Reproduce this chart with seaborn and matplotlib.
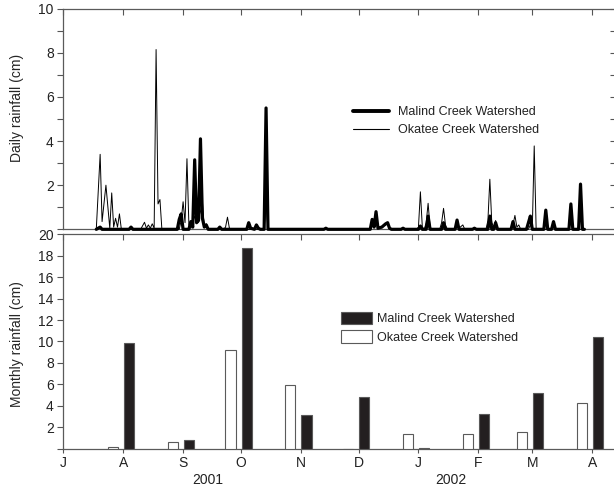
import matplotlib
matplotlib.use("Agg")
import matplotlib.pyplot as plt
import matplotlib.dates as mdates
from matplotlib.lines import Line2D
from matplotlib.patches import Patch
import pandas as pd
import seaborn as sns

START = pd.Timestamp("2001-07-01")

# daily rainfall (cm), days counted from 1 July 2001
malind_day = [17, 19, 20, 34, 35, 36, 59, 60, 61, 62, 65, 66, 67, 68, 69, 70, 71, 72, 73, 74, 75,
              80, 81, 82, 95, 96, 97, 99, 100, 101, 102, 104, 105, 106, 135, 136, 137,
              159, 160, 161, 162, 163, 165, 167, 168, 169, 170, 175, 176, 177, 184, 185, 186,
              188, 189, 190, 196, 197, 198, 203, 204, 205, 212, 213, 214, 220, 221, 222, 223,
              224, 225, 232, 233, 234, 240, 241, 242, 243, 249, 250, 251, 253, 254, 255,
              262, 263, 264, 267, 268, 269, 270]
malind_cm = [0, 0.1, 0, 0, 0.1, 0, 0, 0.45, 0.7, 0, 0, 0.35, 0.1, 3.15, 0.3, 0.4, 4.1, 0.5, 0.1, 0.2, 0,
             0, 0.1, 0, 0, 0.3, 0.05, 0, 0.2, 0.05, 0, 0, 5.5, 0, 0, 0.05, 0,
             0, 0.45, 0.1, 0.8, 0.05, 0.1, 0.25, 0.3, 0.05, 0, 0, 0.05, 0, 0, 0.15, 0,
             0, 0.6, 0, 0, 0.3, 0, 0, 0.42, 0, 0, 0.05, 0, 0, 0.6, 0, 0,
             0.3, 0, 0, 0.35, 0, 0, 0.3, 0.6, 0, 0, 0.87, 0, 0, 0.35, 0,
             0, 1.15, 0, 0, 2.05, 0, 0]

okatee_day = [17, 19, 20, 22, 24, 25, 26, 27, 28, 29, 30,
              40, 42, 43, 44, 45, 46, 47, 48, 49, 50, 51,
              60, 61, 62, 63, 64, 65, 66, 68, 69, 71, 72, 73, 74, 75,
              83, 84, 85, 86, 87, 104, 105, 106,
              159, 160, 161, 162, 163, 167, 168, 169,
              183, 184, 185, 186, 187, 188, 189, 190, 191,
              195, 196, 197, 198, 199, 203, 204, 205, 207, 208,
              219, 220, 221, 222, 223, 224, 225, 232, 233, 234, 235, 236, 237,
              241, 242, 243, 244, 245, 253, 254, 255, 270]
okatee_cm = [0, 3.4, 0.35, 2.0, 0.05, 1.65, 0.1, 0.5, 0.1, 0.7, 0,
             0, 0.32, 0.05, 0.2, 0.05, 0.25, 0.05, 8.15, 1.15, 1.35, 0,
             0, 0.4, 1.25, 0.3, 3.2, 0.2, 0.05, 0.6, 0.3, 0.8, 1.25, 0.1, 0.25, 0,
             0, 0.1, 0.55, 0.05, 0, 0, 1.1, 0,
             0, 0.3, 0.1, 0.5, 0.05, 0.2, 0.25, 0,
             0, 0.1, 1.7, 0.1, 0, 0.3, 1.18, 0.1, 0,
             0, 0.3, 0.95, 0.2, 0, 0, 0.3, 0.05, 0.2, 0,
             0, 0.4, 2.27, 0.3, 0.1, 0.4, 0, 0, 0.2, 0.63, 0.1, 0.2, 0,
             0, 0.2, 0, 3.78, 0, 0, 0.15, 0, 0]

# monthly rainfall (cm), drawn on either side of each month tick
month_dates = ["2001-08-01", "2001-09-01", "2001-10-01", "2001-11-01", "2001-12-01",
               "2002-01-01", "2002-02-01", "2002-03-01", "2002-04-01"]
okatee_month_cm = [0.15, 0.6, 9.2, 5.9, 0.0, 1.35, 1.35, 1.55, 4.25]
malind_month_cm = [9.9, 0.8, 18.7, 3.1, 4.85, 0.05, 3.2, 5.2, 10.45]

names = ["Malind Creek Watershed", "Okatee Creek Watershed"]

sns.set_style("ticks")
plt.rcParams["font.family"] = ["Liberation Sans", "DejaVu Sans"]
plt.rcParams["text.color"] = "#222222"
plt.rcParams["xtick.color"] = "#555555"
plt.rcParams["ytick.color"] = "#555555"
plt.rcParams["xtick.labelcolor"] = "#222222"
plt.rcParams["ytick.labelcolor"] = "#222222"

spine_col = "#5a5a5a"

fig = plt.figure(figsize=(6.14, 4.90), dpi=100)
ax1 = fig.add_axes([0.1034, 0.532, 0.8958, 0.4502])
ax2 = fig.add_axes([0.1034, 0.0843, 0.8958, 0.4376])

xmin = START
xmax = START + pd.Timedelta(days=285.1)

# ---- daily panel
mal = pd.DataFrame({"date": START + pd.to_timedelta(malind_day, unit="D"), "cm": malind_cm})
oka = pd.DataFrame({"date": START + pd.to_timedelta(okatee_day, unit="D"), "cm": okatee_cm})
sns.lineplot(data=mal, x="date", y="cm", ax=ax1, color="black", lw=2.3,
             estimator=None, clip_on=False, zorder=3)
sns.lineplot(data=oka, x="date", y="cm", ax=ax1, color="black", lw=0.7,
             estimator=None, clip_on=False, zorder=4)

ax1.set_xlim(xmin, xmax)
ax1.set_ylim(0, 10)
ax1.set_xlabel("")
ax1.set_ylabel("Daily rainfall (cm)", fontsize=10)
ax1.yaxis.set_label_coords(-0.072, 0.55)
ax1.set_yticks([0, 2, 4, 6, 8, 10])
ax1.set_yticklabels(["", "2", "4", "6", "8", "10"])
ax1.set_yticks([1, 3, 5, 7, 9], minor=True)
ax1.tick_params(axis="y", which="both", direction="out", length=4, width=0.8,
                labelsize=10, pad=3)
ax1.xaxis.set_major_locator(mdates.MonthLocator())
ax1.tick_params(axis="x", which="both", bottom=False, top=True, direction="in",
                length=4, width=0.8, labelbottom=False)
for side in ["top", "left", "bottom"]:
    ax1.spines[side].set_color(spine_col)
    ax1.spines[side].set_linewidth(0.9)
ax1.spines["right"].set_visible(False)
sec_y = ax1.secondary_yaxis("right")
sec_y.set_yticks(range(1, 11))
sec_y.tick_params(direction="in", length=3, width=0.8, labelright=False)
sec_y.spines["right"].set_visible(False)

h1 = [Line2D([], [], color="black", lw=2.8), Line2D([], [], color="black", lw=0.8)]
ax1.legend(h1, names, loc="upper left", bbox_to_anchor=(0.575, 0.783),
           bbox_transform=fig.transFigure, frameon=False, borderpad=0, borderaxespad=0,
           handlelength=2.9, handletextpad=0.7, labelspacing=0.45, fontsize=9)

# ---- monthly panel
mdt = pd.to_datetime(month_dates)
bar_w = 5.3
ax2.bar(mdt - pd.Timedelta(days=5.4), okatee_month_cm, width=bar_w, color="white",
        edgecolor=spine_col, lw=0.8, zorder=3)
ax2.bar(mdt + pd.Timedelta(days=2.95), malind_month_cm, width=bar_w, color="#231f20",
        edgecolor=spine_col, lw=0.8, zorder=3)

ax2.set_xlim(xmin, xmax)
ax2.set_ylim(0, 20)
ax2.set_ylabel("Monthly rainfall (cm)", fontsize=10)
ax2.yaxis.set_label_coords(-0.072, 0.49)
ax2.set_yticks(range(0, 21, 2))
ax2.set_yticklabels([""] + [str(v) for v in range(2, 21, 2)])
ax2.tick_params(axis="y", direction="out", length=4, width=0.8, labelsize=10, pad=3)
ax2.xaxis.set_major_locator(mdates.MonthLocator())
ax2.xaxis.set_major_formatter(
    plt.FuncFormatter(lambda v, pos: mdates.num2date(v).strftime("%b")[0]))
ax2.tick_params(axis="x", direction="out", length=3, width=0.8, labelsize=10, pad=2)
for side in ["top", "left", "bottom"]:
    ax2.spines[side].set_color(spine_col)
    ax2.spines[side].set_linewidth(0.9)
ax2.spines["right"].set_visible(False)
sec_x = ax2.secondary_xaxis("top")
sec_x.xaxis.set_major_locator(mdates.MonthLocator())
sec_x.tick_params(direction="in", length=4, width=0.8, labeltop=False)
sec_x.spines["top"].set_visible(False)

for label, day in [("2001", "2001-09-14"), ("2002", "2002-01-18")]:
    ax2.text(pd.Timestamp(day), -0.146, label, transform=ax2.get_xaxis_transform(),
             ha="center", va="center", fontsize=10)

h2 = [Patch(facecolor="#231f20", edgecolor=spine_col, lw=0.8),
      Patch(facecolor="white", edgecolor=spine_col, lw=0.8)]
ax2.legend(h2, names, loc="upper left", bbox_to_anchor=(0.5554, 0.364),
           bbox_transform=fig.transFigure, frameon=False, borderpad=0, borderaxespad=0,
           handlelength=2.5, handleheight=1.2, handletextpad=0.4, labelspacing=0.4,
           fontsize=9)

fig.savefig("out.png", dpi=100)
